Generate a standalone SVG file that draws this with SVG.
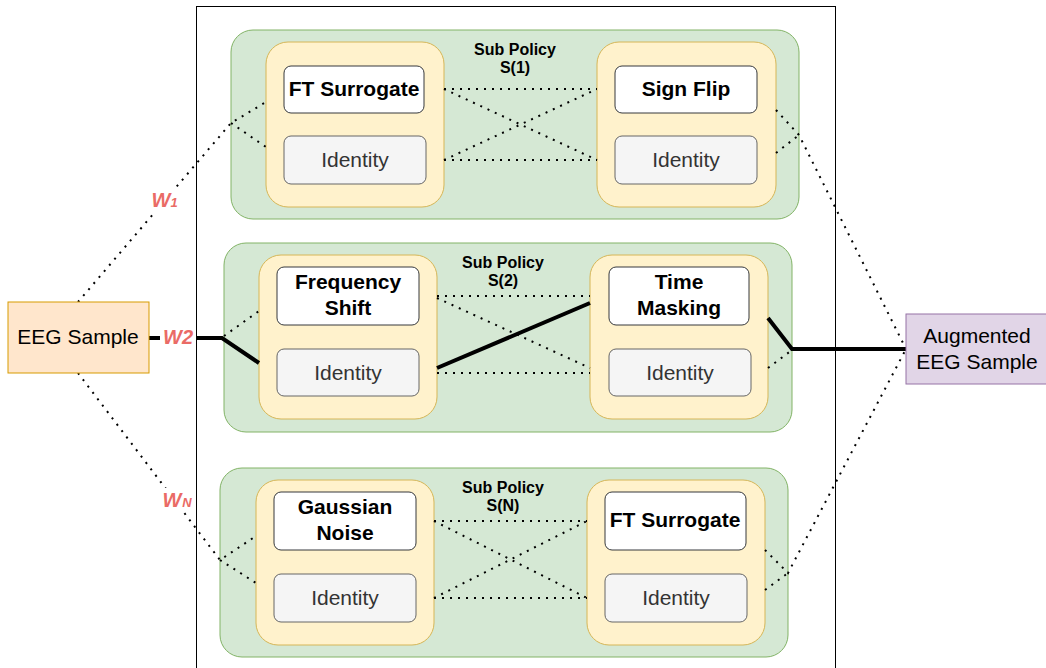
<svg xmlns="http://www.w3.org/2000/svg" width="1046" height="668" viewBox="0 0 1046 668">
<style>
.frame{fill:none;stroke:#000;stroke-width:1}
.pol{fill:#d5e8d4;stroke:#82b366;stroke-width:1}
.slot{fill:#fff2cc;stroke:#d6b656;stroke-width:1}
.op{fill:#fff;stroke:#36393d;stroke-width:1}
.id{fill:#f5f5f5;stroke:#666;stroke-width:1}
.t{font-family:"Liberation Sans",Arial,sans-serif;font-size:21px;text-anchor:middle;fill:#000}
.b{font-weight:bold}
.g{fill:#333}
.sp{font-family:"Liberation Sans",Arial,sans-serif;font-size:16px;font-weight:bold;text-anchor:middle;fill:#000}
.dot{fill:none;stroke:#000;stroke-width:2;stroke-dasharray:2 6}
.thick{fill:none;stroke:#000;stroke-width:4}
.w{font-family:"Liberation Sans",Arial,sans-serif;font-size:20px;font-style:italic;font-weight:bold;fill:#ea6b66;text-anchor:middle}
</style>
<rect width="1046" height="668" fill="#fff"/>
<rect class="frame" x="196.5" y="6.5" width="639" height="700"/>

<g id="policy1">
<rect class="pol" x="231" y="30" width="568" height="189" rx="22"/>
<text class="sp" x="515" y="55">Sub Policy</text>
<text class="sp" x="515" y="73">S(1)</text>
</g>
<g id="slot1a"><rect class="slot" x="266" y="42" width="178" height="165" rx="22"/></g>
<g id="slot1b"><rect class="slot" x="597" y="42" width="179" height="165" rx="22"/></g>
<g id="op-ftsurrogate1"><rect class="op" x="284" y="66" width="140" height="47" rx="7"/><text class="t b" x="354" y="96">FT Surrogate</text></g>
<g id="op-identity1a"><rect class="id" x="284" y="136" width="142" height="48" rx="7"/><text class="t g" x="355" y="167">Identity</text></g>
<g id="op-signflip"><rect class="op" x="615" y="66" width="142" height="47" rx="7"/><text class="t b" x="686" y="96">Sign Flip</text></g>
<g id="op-identity1b"><rect class="id" x="615" y="136" width="142" height="48" rx="7"/><text class="t g" x="686" y="167">Identity</text></g>

<g id="policy2">
<rect class="pol" x="224" y="243" width="568" height="189" rx="22"/>
<text class="sp" x="503" y="268">Sub Policy</text>
<text class="sp" x="503" y="286">S(2)</text>
</g>
<g id="slot2a"><rect class="slot" x="259" y="255" width="178" height="164" rx="22"/></g>
<g id="slot2b"><rect class="slot" x="590" y="255" width="178" height="164" rx="22"/></g>
<g id="op-freqshift"><rect class="op" x="277" y="267" width="142" height="58" rx="7"/><text class="t b" x="348" y="289">Frequency</text><text class="t b" x="348" y="315">Shift</text></g>
<g id="op-identity2a"><rect class="id" x="277" y="349" width="142" height="47" rx="7"/><text class="t g" x="348" y="380">Identity</text></g>
<g id="op-timemask"><rect class="op" x="609" y="267" width="140" height="58" rx="7"/><text class="t b" x="679" y="289">Time</text><text class="t b" x="679" y="315">Masking</text></g>
<g id="op-identity2b"><rect class="id" x="609" y="349" width="142" height="47" rx="7"/><text class="t g" x="680" y="380">Identity</text></g>

<g id="policyN">
<rect class="pol" x="220" y="468" width="568" height="189" rx="22"/>
<text class="sp" x="503" y="493">Sub Policy</text>
<text class="sp" x="503" y="511">S(N)</text>
</g>
<g id="slotNa"><rect class="slot" x="256" y="480" width="178" height="165" rx="22"/></g>
<g id="slotNb"><rect class="slot" x="587" y="480" width="178" height="165" rx="22"/></g>
<g id="op-gauss"><rect class="op" x="274" y="492" width="142" height="58" rx="7"/><text class="t b" x="345" y="514">Gaussian</text><text class="t b" x="345" y="540">Noise</text></g>
<g id="op-identityNa"><rect class="id" x="274" y="574" width="142" height="48" rx="7"/><text class="t g" x="345" y="605">Identity</text></g>
<g id="op-ftsurrogateN"><rect class="op" x="605" y="492" width="141" height="58" rx="7"/><text class="t b" x="675" y="527">FT Surrogate</text></g>
<g id="op-identityNb"><rect class="id" x="605" y="574" width="142" height="48" rx="7"/><text class="t g" x="676" y="605">Identity</text></g>

<g id="connectors">
<path class="dot" d="M78 302 L231 123 L266 102 M231 123 L266 147"/>
<path class="dot" d="M444 89 L597 89 M444 160 L597 160 M444 89 L597 160 M444 160 L597 89"/>
<path class="dot" d="M776 110 L799 135 L906 349 M776 153 L799 135"/>
<path class="dot" d="M224 336 L259 311"/>
<path class="dot" d="M437 296 L590 296 M437 373 L590 373 M437 298 L590 368"/>
<path class="dot" d="M768 368 L792 350"/>
<path class="thick" d="M149 338 L222 338 L259 363"/>
<path class="thick" d="M437 368 L590 303"/>
<path class="thick" d="M768 318 L792 349 L906 349"/>
<path class="dot" d="M78 373 L220 560 L256 536 M220 560 L256 583"/>
<path class="dot" d="M434 521 L587 521 M434 598 L587 598 M434 521 L587 598 M434 598 L587 521"/>
<path class="dot" d="M765 550 L788 573 L906 349 M765 590 L788 573"/>
</g>

<g id="weights">
<rect x="150" y="188" width="30" height="24" fill="#fff"/>
<text class="w" x="161" y="207">W</text><text class="w" x="174" y="207" style="font-size:13px">1</text>
<rect x="160" y="326" width="36" height="24" fill="#fff"/>
<text class="w" x="178" y="344">W2</text>
<rect x="160" y="488" width="34" height="24" fill="#fff"/>
<text class="w" x="172" y="507">W</text><text class="w" x="187" y="507" style="font-size:13px">N</text>
</g>

<g id="eeg-sample"><rect x="8" y="302" width="141" height="71" fill="#ffe6cc" stroke="#d79b00"/><text class="t" x="78" y="344">EEG Sample</text></g>
<g id="augmented"><rect x="906" y="314" width="141" height="70" fill="#e1d5e7" stroke="#9673a6"/><text class="t" x="977" y="343">Augmented</text><text class="t" x="977" y="369">EEG Sample</text></g>
</svg>
